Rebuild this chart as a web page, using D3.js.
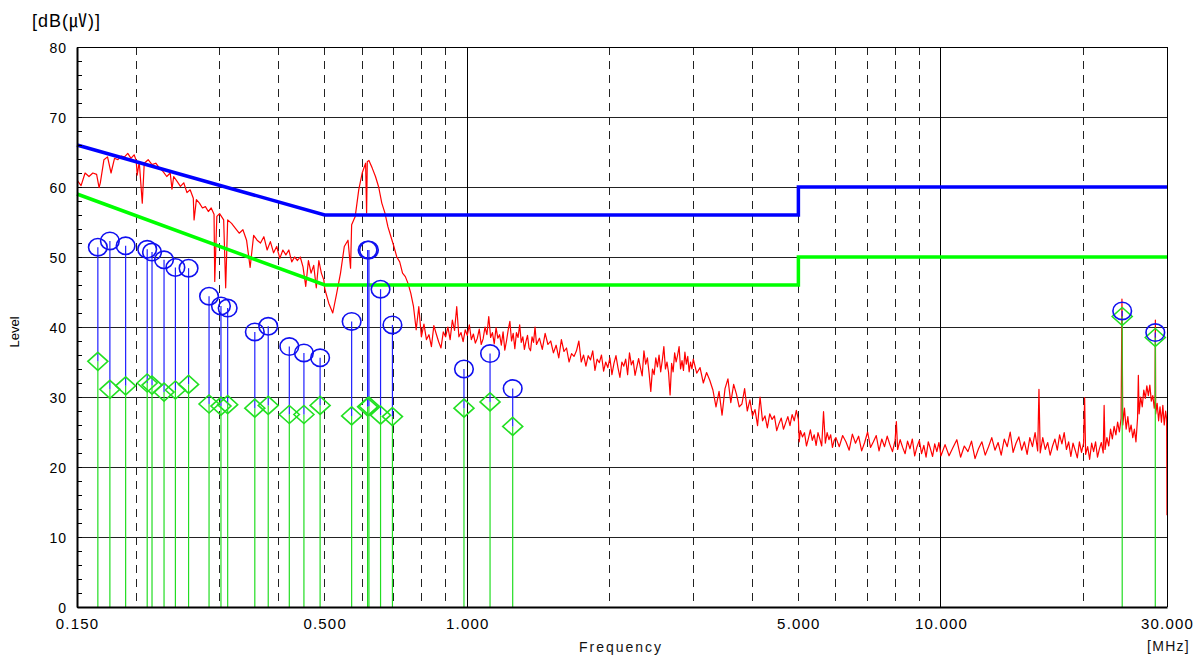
<!DOCTYPE html>
<html>
<head>
<meta charset="utf-8">
<script src="https://cdn.jsdelivr.net/npm/d3@7"></script>
<style>
  html, body { margin: 0; padding: 0; background: #fff; }
  svg { display: block; font-family: "Liberation Sans", Arial, sans-serif; }
</style>
</head>
<body>
<svg id="chart" width="1203" height="660"></svg>
<script>
// Scan trace: [frequency MHz, level dB(uV)]
const scanTrace = [
  [0.150,61.0],[0.153,60.2],[0.156,62.0],[0.159,61.5],[0.162,62.0],[0.165,61.8],[0.167,59.9],[0.168,60.6],
  [0.171,63.9],[0.174,64.3],[0.177,62.0],[0.180,64.1],[0.183,63.9],[0.186,64.4],[0.189,64.3],[0.192,64.8],
  [0.195,64.1],[0.198,64.6],[0.200,63.8],[0.201,61.7],[0.203,63.6],[0.206,57.7],[0.208,63.4],[0.212,63.9],
  [0.216,63.2],[0.220,63.4],[0.224,62.7],[0.228,62.2],[0.232,61.5],[0.236,62.0],[0.238,59.7],[0.240,61.5],
  [0.244,60.8],[0.248,60.1],[0.252,60.6],[0.256,59.2],[0.260,59.6],[0.264,58.4],[0.265,55.3],[0.268,58.2],
  [0.272,57.7],[0.276,57.0],[0.280,57.2],[0.284,56.5],[0.288,57.0],[0.292,56.1],[0.293,46.5],[0.296,55.8],
  [0.300,56.2],[0.306,55.3],[0.309,45.6],[0.312,55.3],[0.318,54.8],[0.324,54.1],[0.330,53.4],[0.336,53.9],
  [0.342,52.4],[0.348,48.5],[0.354,53.1],[0.360,52.4],[0.366,52.0],[0.372,52.9],[0.378,51.0],[0.384,52.2],
  [0.390,50.6],[0.396,51.5],[0.402,49.8],[0.408,51.0],[0.414,50.3],[0.420,51.0],[0.426,49.3],[0.432,50.0],
  [0.438,49.5],[0.444,50.0],[0.450,48.6],[0.456,45.8],[0.462,49.5],[0.468,47.7],[0.474,48.8],[0.480,45.6],
  [0.486,49.5],[0.492,47.7],[0.498,46.7],
  [0.50,45.5],[0.51,43.4],[0.52,42.0],[0.53,44.8],[0.54,47.7],[0.55,51.5],[0.56,52.4],[0.567,48.4],
  [0.57,54.6],[0.58,55.8],[0.59,59.6],[0.60,62.0],[0.61,63.4],[0.613,56.3],[0.615,63.6],[0.62,63.8],
  [0.63,62.7],[0.64,61.5],[0.65,60.0],[0.66,57.7],[0.67,56.3],[0.68,54.3],[0.69,52.9],[0.70,51.5],
  [0.71,50.0],[0.72,49.3],[0.73,47.7],[0.74,47.2],[0.75,46.2],[0.76,44.8],[0.77,42.9],[0.78,39.6],
  [0.79,42.9],[0.80,38.6],[0.81,40.4],[0.82,38.2],[0.83,38.9],[0.84,37.2],[0.85,40.2],[0.86,39.0],
  [0.87,37.9],[0.88,37.0],[0.89,39.3],[0.90,38.6],[0.91,40.0],[0.92,38.2],[0.93,41.0],[0.94,39.5],
  [0.95,42.9],[0.96,38.6],[0.97,39.2],[0.98,37.9],[0.99,39.6],[1.00,38.8],[1.01,40.3],[1.02,38.2],
  [1.03,39.0],[1.04,37.7],[1.05,38.4],[1.06,39.7],[1.07,37.5],[1.08,38.3],[1.09,40.0],[1.10,38.9],
  [1.11,41.5],[1.12,38.5],[1.13,39.2],[1.14,37.6],[1.15,39.9],[1.16,38.4],[1.17,38.9],[1.18,37.4],
  [1.19,39.3],[1.20,36.7],[1.21,38.0],[1.22,39.6],[1.23,40.8],[1.24,38.0],[1.25,39.1],[1.26,36.9],
  [1.27,39.2],[1.28,38.5],[1.29,40.3],[1.30,37.8],[1.31,38.6],[1.32,36.8],[1.33,37.9],[1.34,38.8],
  [1.35,37.0],[1.36,36.6],[1.37,38.6],[1.38,37.8],[1.39,40.0],[1.40,37.5],
  [1.42,38.4],[1.44,36.8],[1.46,39.1],[1.48,37.5],[1.50,38.0],[1.52,36.3],[1.54,37.4],[1.56,35.6],
  [1.58,38.2],[1.60,36.5],[1.62,37.0],[1.64,35.0],[1.66,36.2],[1.68,35.8],[1.70,36.6],[1.72,38.0],
  [1.74,35.0],[1.76,36.0],[1.78,34.4],[1.80,35.9],[1.82,35.3],[1.84,36.6],[1.86,33.8],[1.88,35.4],
  [1.90,34.9],[1.92,36.0],[1.94,33.7],[1.96,35.0],[1.98,34.2],[2.00,35.6],[2.02,33.2],[2.04,34.8],
  [2.06,35.9],[2.08,34.2],[2.10,32.8],[2.12,35.0],[2.14,34.4],[2.16,35.4],[2.18,33.2],[2.20,36.3],
  [2.22,34.6],[2.24,35.2],[2.26,33.1],[2.28,34.3],[2.30,35.5],[2.32,34.2],[2.34,33.0],[2.36,36.6],
  [2.38,34.7],[2.40,35.6],[2.42,33.4],[2.44,30.8],[2.46,34.0],[2.48,33.2],[2.50,35.6],[2.52,34.3],
  [2.54,36.0],[2.56,33.6],[2.58,35.2],[2.60,37.2],[2.62,34.0],[2.64,35.0],[2.66,33.5],[2.68,30.3],
  [2.70,34.8],[2.72,33.6],[2.74,36.3],[2.76,35.0],[2.78,36.0],[2.80,37.2],[2.82,34.0],[2.84,35.2],
  [2.86,33.8],[2.88,36.4],[2.90,34.7],[2.92,35.8],[2.94,33.6],[2.96,35.0],[2.98,34.0],[3.00,35.4],
  [3.05,33.4],[3.10,34.2],[3.15,32.0],[3.20,33.5],[3.25,32.4],[3.30,31.0],[3.35,28.6],[3.40,30.8],
  [3.45,27.4],[3.50,31.2],[3.55,32.6],[3.60,29.2],[3.65,31.8],[3.70,30.4],[3.75,28.6],[3.80,29.0],
  [3.85,31.2],[3.90,28.0],[3.95,29.6],[4.00,27.3],[4.05,28.2],[4.10,25.9],[4.15,30.0],[4.20,26.6],
  [4.25,27.3],[4.30,25.6],[4.35,27.6],[4.40,26.8],[4.45,27.3],[4.50,25.2],[4.55,26.2],[4.60,27.0],
  [4.65,25.4],[4.70,26.3],[4.75,27.2],[4.80,25.9],[4.85,27.5],[4.90,26.6],[4.95,28.1],[5.00,26.8],
  [5.02,23.6],[5.05,25.2],[5.10,24.3],[5.15,24.9],[5.20,23.0],[5.25,24.1],[5.30,25.3],[5.35,23.8],
  [5.40,24.6],[5.45,23.1],[5.50,24.9],[5.55,24.0],[5.60,23.0],[5.65,27.9],[5.70,23.4],[5.75,24.9],
  [5.80,23.9],[5.85,24.6],[5.90,22.8],[5.95,23.8],[6.00,24.2],
  [6.1,22.9],[6.2,24.5],[6.3,23.6],[6.4,22.4],[6.5,24.7],[6.6,23.4],[6.7,24.4],[6.8,22.3],
  [6.9,23.5],[7.0,25.0],[7.1,22.8],[7.2,23.6],[7.3,24.5],[7.4,22.3],[7.5,24.0],[7.6,22.9],
  [7.7,24.4],[7.8,23.2],[7.9,22.2],[8.0,23.8],[8.05,26.5],[8.1,22.5],[8.2,23.9],[8.3,22.8],
  [8.4,21.9],[8.5,23.7],[8.6,22.6],[8.7,24.0],[8.8,21.6],[8.9,22.9],[9.0,23.8],[9.1,21.9],
  [9.2,23.1],[9.3,21.4],[9.4,23.6],[9.5,22.6],[9.6,21.5],[9.7,23.3],[9.8,22.2],[9.9,23.5],
  [10.0,21.6],[10.2,23.2],[10.4,21.6],[10.6,22.8],[10.8,23.9],[11.0,21.4],[11.2,23.0],[11.4,22.2],
  [11.6,23.7],[11.8,21.2],[12.0,22.6],[12.2,23.6],[12.4,21.7],[12.6,22.9],[12.8,24.2],[13.0,22.4],
  [13.2,23.5],[13.4,21.7],[13.6,24.0],[13.8,22.9],[14.0,25.0],[14.2,22.1],[14.4,23.4],[14.6,24.3],
  [14.8,22.4],[15.0,23.6],[15.2,21.8],[15.4,24.2],[15.6,22.9],[15.8,24.9],[16.0,22.3],[16.1,31.1],
  [16.2,22.0],[16.4,24.2],[16.6,22.5],[16.8,23.5],[17.0,21.7],[17.2,23.0],[17.4,24.0],[17.6,22.4],
  [17.8,24.6],[18.0,23.3],[18.2,24.9],[18.4,22.5],[18.6,23.6],[18.8,21.5],[19.0,23.4],[19.2,22.4],
  [19.4,21.3],[19.6,23.6],[19.8,22.1],[20.0,23.4],[20.1,29.9],[20.2,21.8],[20.4,22.9],[20.6,21.1],
  [20.8,23.4],[21.0,22.2],[21.2,23.6],[21.4,21.4],[21.6,22.6],[21.8,23.5],[22.0,22.0],[22.1,28.8],
  [22.2,22.5],[22.4,24.2],[22.6,23.0],[22.8,25.4],[23.0,24.0],[23.2,25.8],[23.4,24.6],[23.6,26.4],
  [23.8,25.0],[24.0,26.9],[24.1,44.0],[24.2,26.0],[24.4,28.4],[24.6,25.4],[24.8,27.2],[25.0,25.0],
  [25.2,26.0],[25.4,24.2],[25.6,25.4],[25.8,23.6],[26.0,27.0],[26.1,33.1],[26.2,27.6],[26.4,30.0],
  [26.6,28.6],[26.8,31.0],[27.0,29.8],[27.2,31.6],[27.4,30.2],[27.6,31.7],[27.8,29.4],[28.0,30.2],
  [28.2,28.4],[28.3,29.6],[28.35,41.0],[28.4,27.6],[28.6,29.1],[28.8,26.6],[29.0,28.6],[29.2,26.4],
  [29.4,28.8],[29.6,26.0],[29.8,28.0],[29.95,26.8],[30.0,13.1]
];

// Limit lines: [frequency MHz, level]
const qpLimit = [[0.15, 66], [0.5, 56], [5, 56], [5, 60], [30, 60]];
const avLimit = [[0.15, 59], [0.5, 46], [5, 46], [5, 50], [30, 50]];

// Final measurement points (quasi-peak circles, average diamonds)
const markerFreq = [0.166, 0.176, 0.190, 0.211, 0.216, 0.229, 0.242, 0.258, 0.285, 0.302, 0.312, 0.356, 0.380,
                    0.421, 0.452, 0.489, 0.570, 0.616, 0.620, 0.656, 0.695, 0.984, 1.117, 1.247, 24.13, 28.34];
const qpLevel    = [51.4, 52.3, 51.6, 51.1, 50.7, 49.6, 48.5, 48.4, 44.4, 43.0, 42.7, 39.3, 40.1,
                    37.2, 36.3, 35.6, 40.8, 51.0, 51.0, 45.4, 40.3, 34.0, 36.2, 31.2, 42.3, 39.2];
const avLevel    = [35.1, 31.1, 31.6, 32.0, 31.7, 30.7, 31.0, 31.8, 29.0, 28.7, 28.9, 28.4, 28.8,
                    27.5, 27.5, 28.8, 27.3, 28.6, 28.7, 27.4, 27.2, 28.4, 29.3, 25.8, 41.5, 38.5];

// Axis ticks and grid
const xTickValues = [0.15, 0.5, 1, 5, 10, 30];
const solidFreqGrid = [1, 10];
const dashedFreqGrid = [0.2, 0.3, 0.4, 0.5, 0.6, 0.7, 0.8, 0.9, 2, 3, 4, 5, 6, 7, 8, 9, 20];
const levelGrid = [10, 20, 30, 40, 50, 60, 70];

const W = 1203, H = 660;
const margin = { top: 47, right: 36, bottom: 53, left: 77 };
const width = W - margin.left - margin.right;
const height = H - margin.top - margin.bottom;

const svg = d3.select('#chart');
const g = svg.append('g').attr('transform', `translate(${margin.left},${margin.top})`);

const x = d3.scaleLog().domain([0.15, 30]).range([0, width]);
const y = d3.scaleLinear().domain([0, 80]).range([height, 0]);

svg.append('defs').append('clipPath').attr('id', 'plotClip')
    .append('rect').attr('width', width).attr('height', height);

// Horizontal grid
g.selectAll('.hgrid').data(levelGrid).enter().append('line')
    .attr('x1', 0).attr('x2', width)
    .attr('y1', d => y(d)).attr('y2', d => y(d))
    .attr('stroke', '#222').attr('stroke-width', 1)
    .attr('shape-rendering', 'crispEdges');

// Vertical grid - decades solid, the rest dashed
g.selectAll('.vgrid-solid').data(solidFreqGrid).enter().append('line')
    .attr('x1', d => x(d)).attr('x2', d => x(d))
    .attr('y1', 0).attr('y2', height)
    .attr('stroke', '#000').attr('stroke-width', 1)
    .attr('shape-rendering', 'crispEdges');

g.selectAll('.vgrid-dash').data(dashedFreqGrid).enter().append('line')
    .attr('x1', d => x(d)).attr('x2', d => x(d))
    .attr('y1', 0).attr('y2', height)
    .attr('stroke', '#222').attr('stroke-width', 1)
    .attr('stroke-dasharray', '8,6')
    .attr('shape-rendering', 'crispEdges');

const line = d3.line().x(d => x(d[0])).y(d => y(d[1]));

// Scan trace
g.append('path')
    .datum(scanTrace)
    .attr('clip-path', 'url(#plotClip)')
    .attr('fill', 'none')
    .attr('stroke', '#ff0000')
    .attr('stroke-width', 1.2)
    .attr('stroke-linejoin', 'round')
    .attr('d', line);

// Limits
g.append('path').datum(avLimit)
    .attr('fill', 'none').attr('stroke', '#00ff00').attr('stroke-width', 3.5)
    .attr('d', line);
g.append('path').datum(qpLimit)
    .attr('fill', 'none').attr('stroke', '#0000ff').attr('stroke-width', 3.5)
    .attr('d', line);

const markers = markerFreq.map((f, i) => ({ f, qp: qpLevel[i], av: avLevel[i] }));

// Stems: blue from QP down to AV, green from AV down to the axis
g.selectAll('.stem-av').data(markers).enter().append('line')
    .attr('x1', d => x(d.f)).attr('x2', d => x(d.f))
    .attr('y1', d => y(d.av)).attr('y2', y(0))
    .attr('stroke', '#22dd22').attr('stroke-width', 1.2);

g.selectAll('.stem-qp').data(markers).enter().append('line')
    .attr('x1', d => x(d.f)).attr('x2', d => x(d.f))
    .attr('y1', d => y(d.qp)).attr('y2', d => y(d.av))
    .attr('stroke', '#1f1fff').attr('stroke-width', 1.2);

// Average markers (diamonds)
g.selectAll('.av-mark').data(markers).enter().append('path')
    .attr('transform', d => `translate(${x(d.f)},${y(d.av)})`)
    .attr('d', 'M0,-9L10,0L0,9L-10,0Z')
    .attr('fill', 'none').attr('stroke', '#22e022').attr('stroke-width', 1.6);

// Quasi-peak markers (circles)
g.selectAll('.qp-mark').data(markers).enter().append('ellipse')
    .attr('cx', d => x(d.f)).attr('cy', d => y(d.qp))
    .attr('rx', 9.3).attr('ry', 8.7)
    .attr('fill', 'none').attr('stroke', '#1010f0').attr('stroke-width', 1.6);

// Left axis with inward minor ticks every 2 dB
const yAxis = g.append('g')
    .call(d3.axisLeft(y)
        .tickValues(d3.range(0, 81, 2))
        .tickSize(-5)
        .tickSizeOuter(0)
        .tickPadding(10)
        .tickFormat(d => d % 10 === 0 ? d : ''));
yAxis.select('.domain').attr('stroke', '#000').attr('stroke-width', 2);
yAxis.selectAll('.tick line').attr('stroke', '#000');
yAxis.selectAll('text')
    .attr('font-family', '"Liberation Sans", Arial, sans-serif')
    .attr('font-size', '14px')
    .attr('letter-spacing', '1px')
    .attr('dy', '0.4em')
    .attr('fill', '#000');

// Bottom axis
const xAxis = g.append('g')
    .attr('transform', `translate(0,${height})`)
    .call(d3.axisBottom(x)
        .tickValues(xTickValues)
        .tickSize(0)
        .tickSizeOuter(0)
        .tickPadding(11)
        .tickFormat(d3.format('.3f')));
xAxis.select('.domain').attr('stroke', '#000').attr('stroke-width', 2);
xAxis.selectAll('text')
    .attr('font-family', '"Liberation Sans", Arial, sans-serif')
    .attr('font-size', '15px')
    .attr('letter-spacing', '1.2px')
    .attr('fill', '#000');

// Top and right frame
g.append('line').attr('x1', 0).attr('x2', width).attr('y1', 0).attr('y2', 0)
    .attr('stroke', '#000').attr('shape-rendering', 'crispEdges');
g.append('line').attr('x1', width).attr('x2', width).attr('y1', 0).attr('y2', height)
    .attr('stroke', '#000').attr('shape-rendering', 'crispEdges');

// Titles
const unit = svg.append('text')
    .attr('x', 32).attr('y', 27)
    .attr('font-size', '18px')
    .attr('letter-spacing', '1px')
    .attr('fill', '#000');
unit.append('tspan').text('[dB(');
unit.append('tspan').attr('font-family', '"Noto Sans CJK JP"').text('㎶');
unit.append('tspan').text(')]');

svg.append('text')
    .attr('transform', 'translate(19,332) rotate(-90)')
    .attr('text-anchor', 'middle')
    .attr('font-size', '13px')
    .attr('fill', '#000')
    .text('Level');

svg.append('text')
    .attr('x', 621).attr('y', 652)
    .attr('text-anchor', 'middle')
    .attr('font-size', '14px')
    .attr('letter-spacing', '2px')
    .attr('fill', '#111')
    .text('Frequency');

svg.append('text')
    .attr('x', 1147).attr('y', 651)
    .attr('font-size', '14px')
    .attr('letter-spacing', '1.3px')
    .attr('fill', '#111')
    .text('[MHz]');
</script>
</body>
</html>
